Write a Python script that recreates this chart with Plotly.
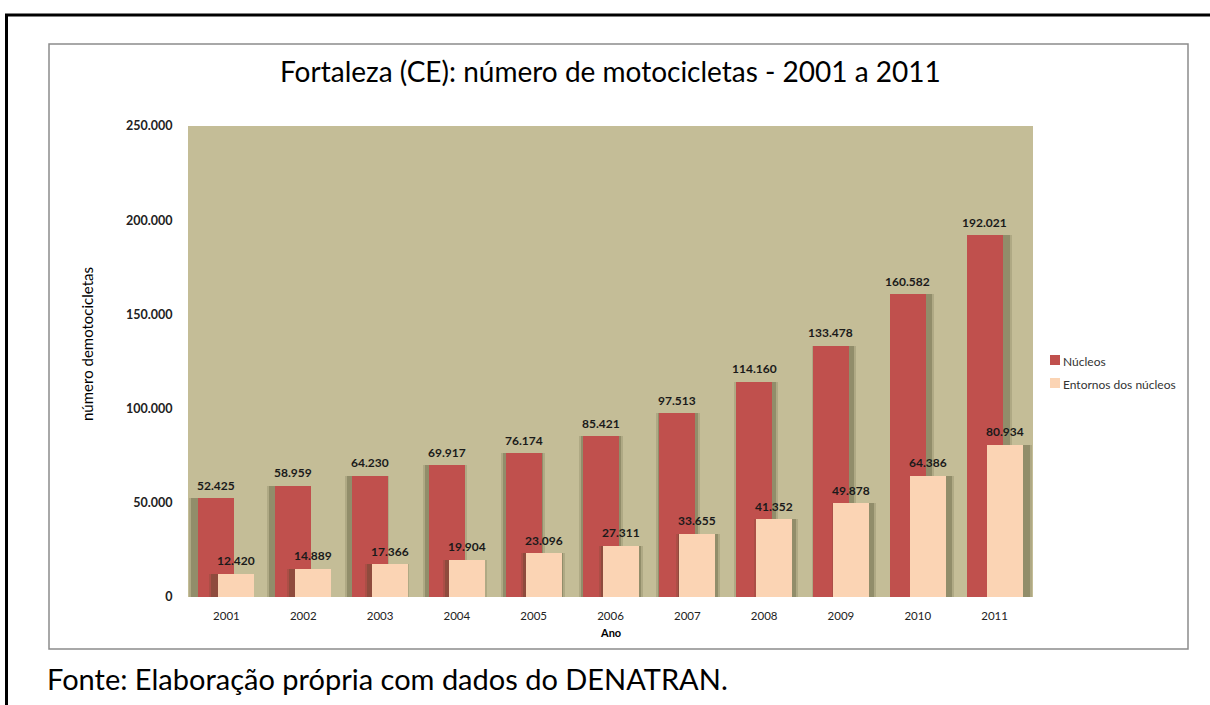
import plotly.graph_objects as go

# --- data -------------------------------------------------------------
anos = ["2001", "2002", "2003", "2004", "2005", "2006",
        "2007", "2008", "2009", "2010", "2011"]
nucleos = [52425, 58959, 64230, 69917, 76174, 85421,
           97513, 114160, 133478, 160582, 192021]
entornos = [12420, 14889, 17366, 19904, 23096, 27311,
            33655, 41352, 49878, 64386, 80934]
y_ticks = [0, 50000, 100000, 150000, 200000, 250000]

# --- geometry (pixels) ------------------------------------------------
W, H = 1210, 705
PL, PR, PT, PB = 188, 1033, 126, 597          # plot area
pw, ph = PR - PL, PB - PT
cat_px = pw / len(anos)


def px_x(px):
    return (px - PL) / pw


def px_y(py):
    return (PB - py) / ph


FONT = "Lato, 'Open Sans', sans-serif"
RED = "#C0504D"
PEACH = "#FBD4B4"
BG = "#C4BD97"

bar_w = 36 / cat_px
red_off = -28 / cat_px
peach_off = -8 / cat_px
xs = list(range(len(anos)))


def fmt(v):
    return f"{v:,}".replace(",", ".")


fig = go.Figure()


def shadow(values, base_off, grow_px, alpha):
    offs = [base_off - grow_px / 2 / cat_px + (i - 5) * 1.0 / cat_px for i in xs]
    return go.Bar(
        x=xs, y=values, width=bar_w + grow_px / cat_px, offset=offs,
        marker=dict(color=f"rgba(70,68,40,{alpha})", line=dict(width=0)),
        showlegend=False, hoverinfo="skip",
    )


# soft perspective shadows behind each series
fig.add_trace(shadow(nucleos, red_off, 8, 0.16))
fig.add_trace(shadow(nucleos, red_off, 4, 0.28))
fig.add_trace(go.Bar(
    x=xs, y=nucleos, width=bar_w, offset=red_off, name="Núcleos",
    marker=dict(color=RED, line=dict(width=0)), showlegend=False,
))
fig.add_trace(shadow(entornos, peach_off, 8, 0.16))
fig.add_trace(shadow(entornos, peach_off, 4, 0.28))
fig.add_trace(go.Bar(
    x=xs, y=entornos, width=bar_w, offset=peach_off, name="Entornos dos núcleos",
    marker=dict(color=PEACH, line=dict(width=0)), showlegend=False,
))

annotations = []
for i in xs:
    for vals, off in ((nucleos, red_off), (entornos, peach_off)):
        annotations.append(dict(
            x=i + off + bar_w / 2, y=vals[i], xref="x", yref="y",
            text=f"<b>{fmt(vals[i])}</b>", showarrow=False, yshift=13,
            xanchor="center", yanchor="middle",
            font=dict(family=FONT, size=12, color="#1a1a1a"),
        ))

# titles and captions
annotations += [
    dict(x=px_x(610), y=px_y(71), xref="paper", yref="paper",
         xanchor="center", yanchor="middle",
         text="Fortaleza (CE): número de motocicletas - 2001 a 2011",
         showarrow=False, font=dict(family=FONT, size=28, color="#000")),
    dict(x=px_x(87), y=px_y(344), xref="paper", yref="paper",
         xanchor="center", yanchor="middle",
         text="número demotocicletas", textangle=-90, showarrow=False,
         font=dict(family=FONT, size=15, color="#000")),
    dict(x=px_x(610), y=px_y(632), xref="paper", yref="paper",
         xanchor="center", yanchor="middle",
         text="<b>Ano</b>", showarrow=False,
         font=dict(family=FONT, size=11, color="#000")),
    dict(x=px_x(45), y=px_y(678), xref="paper", yref="paper",
         xanchor="left", yanchor="middle",
         text="Fonte: Elaboração própria com dados do DENATRAN.",
         showarrow=False, font=dict(family=FONT, size=29, color="#000")),
]

# legend entries
legend_items = [("Núcleos", RED, 360), ("Entornos dos núcleos", PEACH, 383)]
shapes = []
for label, color, yc in legend_items:
    shapes.append(dict(type="rect", xref="paper", yref="paper",
                       x0=px_x(1050), x1=px_x(1060), y0=px_y(yc + 5), y1=px_y(yc - 5),
                       fillcolor=color, line=dict(width=0)))
    annotations.append(dict(x=px_x(1061), y=px_y(yc + 1), xref="paper", yref="paper",
                            xanchor="left", yanchor="middle", text=label,
                            showarrow=False,
                            font=dict(family=FONT, size=12, color="#333")))

# chart frame and page border
shapes += [
    dict(type="rect", xref="paper", yref="paper", layer="below",
         x0=px_x(49), x1=px_x(1188), y0=px_y(649), y1=px_y(44),
         line=dict(color="#8c8c8c", width=1.5), fillcolor="rgba(0,0,0,0)"),
    dict(type="rect", xref="paper", yref="paper",
         x0=px_x(6.5), x1=px_x(1220), y0=px_y(720), y1=px_y(15),
         line=dict(color="#000", width=3), fillcolor="rgba(0,0,0,0)"),
]

fig.update_layout(
    width=W, height=H,
    margin=dict(l=PL, r=W - PR, t=PT, b=H - PB, pad=0),
    paper_bgcolor="white", plot_bgcolor=BG,
    barmode="overlay", bargap=0,
    showlegend=False,
    annotations=annotations, shapes=shapes,
    font=dict(family=FONT),
)
fig.update_xaxes(
    range=[-0.5, len(anos) - 0.5], tickvals=xs, ticktext=anos,
    showgrid=False, zeroline=False, showline=False,
    ticks="outside", ticklen=8, tickcolor="rgba(0,0,0,0)",
    tickfont=dict(family=FONT, size=11.5, color="#222"),
)
fig.update_yaxes(
    range=[0, 250000], tickvals=y_ticks,
    ticktext=[f"<b>{fmt(v)}</b>" for v in y_ticks],
    showgrid=False, zeroline=False, showline=False,
    ticks="outside", ticklen=12, tickcolor="rgba(0,0,0,0)",
    tickfont=dict(family=FONT, size=12.5, color="#222"),
)

fig.write_html("out.html")
